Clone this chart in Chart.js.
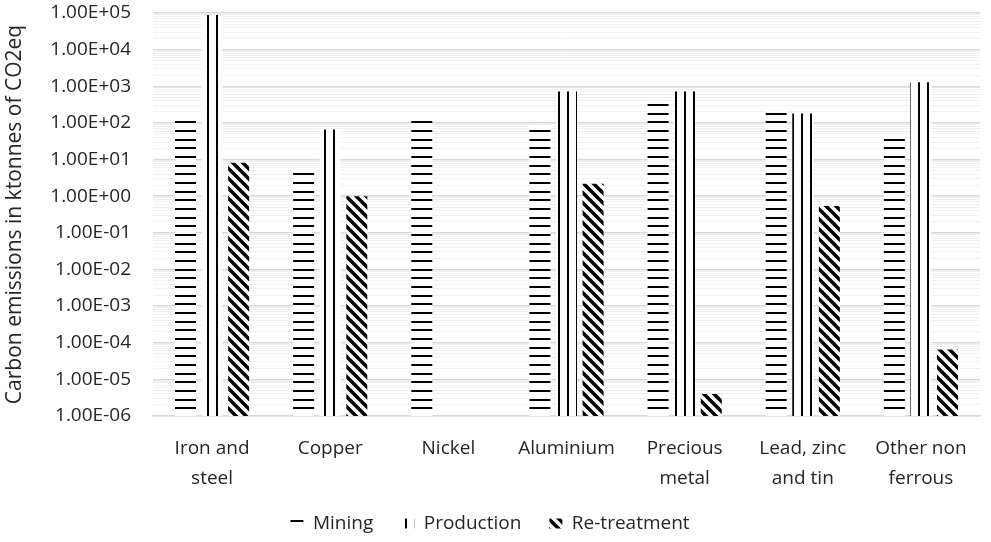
<!DOCTYPE html>
<html>
<head>
<meta charset="utf-8">
<script src="https://cdn.jsdelivr.net/npm/chart.js@4.4.1/dist/chart.umd.min.js"></script>
<style>
  html, body { margin: 0; padding: 0; background: #fff; }
  canvas { display: block; }
</style>
</head>
<body>
<canvas id="emissionsChart" width="991" height="542"></canvas>
<script>
// categories and values (ktonnes CO2eq)
const categories = [['Iron and', 'steel'], 'Copper', 'Nickel', 'Aluminium', ['Precious', 'metal'], ['Lead, zinc', 'and tin'], ['Other non', 'ferrous']];
const seriesNames = ['Mining', 'Production', 'Re-treatment'];
const mining = [140, 6.0, 132, 85, 410, 218, 48];
const production = [88000, 66, null, 720, 720, 180, 1280];
const retreatment = [8.2, 1.0, null, 2.17, 4.0e-6, 0.54, 6.5e-5];
const yMin = 1e-6;
const yMax = 1e5;

const FONT = '"Open Sans", "Noto Sans", sans-serif';
const TEXT = '#262626';

// hatch patterns, white ground with black strokes
function makePattern(w, h, draw) {
    const c = document.createElement('canvas');
    c.width = w;
    c.height = h;
    const g = c.getContext('2d');
    g.fillStyle = '#ffffff';
    g.fillRect(0, 0, w, h);
    g.fillStyle = '#000000';
    g.strokeStyle = '#000000';
    draw(g, w, h);
    return g.createPattern(c, 'repeat');
}

const ctx = document.getElementById('emissionsChart').getContext('2d');

const horizPattern = makePattern(8, 26, (g) => {
    g.fillRect(0, 0, 8, 2);
    g.fillRect(0, 9, 8, 2);
    g.fillRect(0, 17, 8, 2);
});
const vertPattern = makePattern(9, 8, (g) => {
    g.fillRect(0, 0, 2, 8);
});
const diagPattern = makePattern(10, 10, (g, w, h) => {
    g.lineWidth = 3.5;
    for (let k = -1; k <= 1; k++) {
        g.beginPath();
        g.moveTo(k * w - 2, -2);
        g.lineTo(k * w + w + 2, h + 2);
        g.stroke();
    }
});

function isDecade(v) {
    const l = Math.log10(v);
    return Math.abs(l - Math.round(l)) < 1e-9;
}

function sciLabel(v) {
    const e = Math.round(Math.log10(v));
    return '1.00E' + (e < 0 ? '-' : '+') + String(Math.abs(e)).padStart(2, '0');
}

const chart = new Chart(ctx, {
    type: 'bar',
    data: {
        labels: categories,
        datasets: [
            { label: seriesNames[0], data: mining, backgroundColor: horizPattern, borderWidth: 0 },
            { label: seriesNames[1], data: production, backgroundColor: vertPattern, borderWidth: 0 },
            { label: seriesNames[2], data: retreatment, backgroundColor: diagPattern, borderWidth: 0 }
        ]
    },
    options: {
        responsive: false,
        animation: false,
        layout: { padding: { top: 13, right: 11, bottom: -1, left: 0 } },
        datasets: {
            bar: { categoryPercentage: 0.675, barPercentage: 0.79 }
        },
        plugins: {
            tooltip: { enabled: false },
            legend: {
                position: 'bottom',
                labels: {
                    boxWidth: 13,
                    boxHeight: 10,
                    padding: 28,
                    color: TEXT,
                    font: { family: FONT, size: 19 }
                }
            }
        },
        scales: {
            x: {
                grid: { display: false, drawTicks: false },
                border: { display: true, color: '#d9d9d9', width: 1.5 },
                ticks: {
                    color: TEXT,
                    padding: 18,
                    maxRotation: 0,
                    autoSkip: false,
                    font: { family: FONT, size: 19, lineHeight: 1.58 }
                },
                afterFit: (scale) => { scale.height = 70; }
            },
            y: {
                type: 'logarithmic',
                min: yMin,
                max: yMax,
                border: { display: false },
                grid: {
                    drawTicks: false,
                    color: (c) => (c.tick && isDecade(c.tick.value)) ? '#d9d9d9' : '#f0f0f0',
                    lineWidth: (c) => (c.tick && isDecade(c.tick.value)) ? 1.5 : 1
                },
                ticks: {
                    color: TEXT,
                    padding: 22,
                    autoSkip: false,
                    font: { family: FONT, size: 19 },
                    callback: (v) => isDecade(v) ? sciLabel(v) : ''
                },
                afterBuildTicks: (scale) => {
                    // one tick per 1..9 x 10^n, labels only on the decades
                    const ticks = [];
                    for (let e = -6; e <= 5; e++) {
                        for (let m = 1; m <= 9; m++) {
                            const v = Number((m * Math.pow(10, e)).toPrecision(3));
                            if (v >= yMin && v <= yMax) ticks.push({ value: v });
                        }
                    }
                    scale.ticks = ticks;
                },
                afterFit: (scale) => {
                    scale.width = 153;
                    scale.paddingTop = 0;
                    scale.paddingBottom = 0;
                },
                title: {
                    display: true,
                    text: 'Carbon emissions in ktonnes of CO2eq',
                    color: TEXT,
                    padding: { top: 2, bottom: 0 },
                    font: { family: FONT, size: 21 }
                }
            }
        }
    }
});
</script>
</body>
</html>
